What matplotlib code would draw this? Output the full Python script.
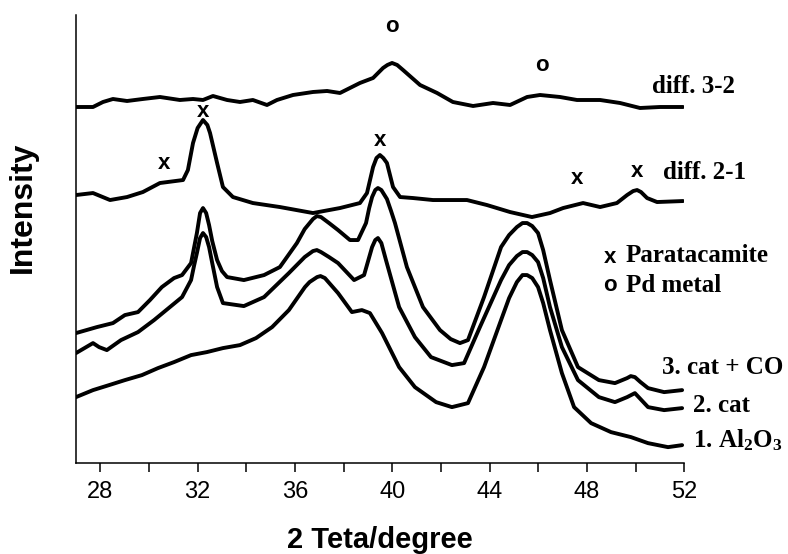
import numpy as np
import matplotlib
matplotlib.use("Agg")
import matplotlib.pyplot as plt
from matplotlib.ticker import MultipleLocator

plt.rcParams['mathtext.fontset'] = 'custom'
plt.rcParams['mathtext.bf'] = 'Liberation Serif:bold'
plt.rcParams['mathtext.rm'] = 'Liberation Serif:bold'
plt.rcParams['mathtext.default'] = 'bf'

# 2 theta / intensity (arbitrary, offset)
tt_co = [27.00, 27.86, 28.52, 29.01, 29.55, 30.04, 30.53, 31.03, 31.36, 31.73, 31.85, 31.97,
         32.10, 32.22, 32.35, 32.47, 32.60, 32.80, 33.00, 33.21, 33.90, 34.73, 35.38, 36.08,
         36.40, 36.74, 36.90, 37.07, 37.40, 37.77, 38.26, 38.59, 38.92, 39.05, 39.17, 39.30,
         39.41, 39.55, 39.78, 39.95, 40.11, 40.60, 41.26, 41.96, 42.40, 42.78, 43.11, 43.77,
         44.47, 44.80, 45.12, 45.35, 45.54, 45.75, 45.99, 46.20, 46.48, 46.97, 47.63, 48.49,
         49.15, 49.65, 49.80, 49.97, 50.20, 50.51, 51.17, 51.91]
i_co = [130, 136, 140, 148, 151, 163, 176, 185, 188, 200, 215, 230,
        250, 255, 250, 238, 222, 203, 192, 186, 183, 188, 196, 220,
        234, 244, 247, 246, 240, 233, 223, 223, 240, 255, 266, 273,
        275, 273, 264, 252, 240, 196, 156, 133, 124, 120, 123, 166,
        216, 228, 236, 240, 240, 237, 230, 213, 183, 133, 96, 83,
        80, 85, 87, 86, 81, 75, 71, 73]

tt_cat = [27.00, 27.70, 27.95, 28.27, 28.85, 29.55, 30.21, 30.86, 31.36, 31.73, 31.85, 31.97,
          32.10, 32.22, 32.35, 32.47, 32.60, 32.80, 33.04, 33.90, 34.73, 35.75, 36.40, 36.74,
          36.90, 37.07, 37.40, 37.77, 38.43, 38.84, 39.17, 39.30, 39.41, 39.55, 39.74, 40.28,
          40.93, 41.59, 42.45, 42.95, 43.60, 44.47, 44.80, 45.12, 45.35, 45.54, 45.75, 45.99,
          46.20, 46.48, 46.97, 47.63, 48.49, 49.15, 49.65, 49.97, 50.51, 51.17, 51.91]
i_cat = [110, 120, 116, 113, 123, 131, 143, 156, 166, 183, 197, 210,
         225, 230, 226, 216, 200, 176, 160, 157, 166, 190, 206, 212,
         213, 211, 206, 200, 183, 188, 216, 223, 225, 220, 203, 156,
         126, 106, 98, 100, 136, 183, 198, 207, 211, 211, 208, 201,
         185, 156, 116, 83, 66, 61, 66, 70, 56, 53, 55]

tt_al = [27.00, 27.70, 28.36, 29.01, 29.71, 30.37, 31.03, 31.73, 32.38, 33.04, 33.74, 34.40,
         35.06, 35.75, 36.41, 36.60, 36.91, 37.05, 37.23, 37.77, 38.34, 38.75, 39.08, 39.58,
         40.28, 40.93, 41.80, 42.45, 43.11, 43.77, 44.47, 44.80, 45.12, 45.35, 45.54, 45.75,
         45.99, 46.20, 46.48, 46.97, 47.47, 48.17, 48.99, 49.81, 50.51, 51.33, 51.91]
i_al = [66, 73, 78, 83, 88, 95, 101, 108, 111, 115, 118, 125,
        136, 153, 176, 181, 186, 187, 185, 170, 151, 153, 150, 130,
        96, 76, 61, 56, 60, 96, 143, 165, 181, 188, 188, 185,
        176, 160, 133, 90, 56, 40, 31, 26, 20, 16, 18]

tt_d21 = [27.00, 27.70, 28.40, 29.10, 29.75, 30.45, 31.40, 31.60, 31.81, 32.00, 32.22, 32.40,
          32.51, 32.80, 33.04, 33.45, 34.27, 35.38, 36.74, 37.85, 38.67, 38.96, 39.21, 39.35,
          39.49, 39.63, 39.78, 40.03, 40.32, 40.85, 41.67, 43.07, 43.89, 44.84, 45.74, 46.48,
          47.02, 47.84, 48.54, 49.23, 49.65, 49.90, 50.06, 50.22, 50.47, 50.88, 51.95]
i_d21 = [268, 270, 263, 266, 271, 280, 283, 293, 320, 335, 343, 338,
         330, 300, 276, 266, 260, 256, 250, 255, 260, 270, 296, 305,
         308, 305, 300, 276, 266, 265, 263, 263, 258, 251, 246, 250,
         255, 260, 256, 260, 268, 272, 273, 271, 265, 261, 262]

tt_d32 = [27.00, 27.70, 28.11, 28.52, 29.10, 29.75, 30.45, 31.27, 31.81, 32.22, 32.63, 33.21,
          33.74, 34.27, 34.85, 35.26, 35.92, 36.74, 37.32, 37.85, 38.26, 38.67, 39.21, 39.62,
          39.80, 39.99, 40.20, 40.44, 41.14, 41.84, 42.49, 43.32, 44.14, 44.84, 45.54, 46.07,
          46.89, 47.59, 48.54, 49.36, 50.18, 51.00, 51.95]
i_d32 = [356, 356, 361, 364, 362, 364, 366, 363, 364, 363, 367, 363,
         361, 363, 358, 363, 368, 371, 372, 370, 375, 380, 385, 395,
         398, 400, 398, 393, 378, 370, 361, 357, 360, 358, 366, 368,
         366, 363, 363, 360, 355, 356, 356]

# phase marks
para_tt = [30.62, 32.22, 39.49, 47.59, 50.06]
para_i = [300, 351, 323, 285, 292]
pd_tt = [39.99, 46.15]
pd_i = [436, 397]

fig = plt.figure(figsize=(7.88, 5.54), dpi=100)
ax = fig.add_axes([0.0964, 0.164, 0.772, 0.809])

lw = 2.8
for tt, ii in [(tt_co, i_co), (tt_cat, i_cat), (tt_al, i_al), (tt_d21, i_d21), (tt_d32, i_d32)]:
    ax.plot(tt, ii, color='black', lw=lw, solid_joinstyle='round', solid_capstyle='round')

mark_font = dict(family='Liberation Sans', weight='bold', fontsize=16, ha='center', va='center')
for t, v in zip(para_tt, para_i):
    ax.text(t, v, 'x', **mark_font)
for t, v in zip(pd_tt, pd_i):
    ax.text(t, v, 'o', **mark_font)

lab_font = dict(family='Liberation Serif', weight='bold', fontsize=18, ha='left', va='center',
                clip_on=False)
ax.text(50.67, 376, 'diff. 3-2', **lab_font)
ax.text(51.13, 291, 'diff. 2-1', **lab_font)
ax.text(48.95, 206, 'x', **mark_font)
ax.text(49.60, 208, 'Paratacamite', **lab_font)
ax.text(48.95, 178, 'o', **mark_font)
ax.text(49.60, 178, 'Pd metal', **lab_font)
ax.text(51.08, 96, '3. cat + CO', **lab_font)
ax.text(52.36, 58, '2. cat', **lab_font)
ax.text(52.36, 23, r'1. Al$_2$O$_3$', **lab_font)

ax.set_xlim(27, 52)
ax.set_ylim(0, 448)
ax.xaxis.set_minor_locator(MultipleLocator(2))
ax.set_xticks([28, 32, 36, 40, 44, 48, 52])
ax.tick_params(axis='x', which='both', direction='out', length=6.5, width=1.1, pad=6)
ax.tick_params(axis='x', labelsize=17)
for lbl in ax.get_xticklabels():
    lbl.set_family('Liberation Sans')
ax.set_yticks([])
for s in ['top', 'right']:
    ax.spines[s].set_visible(False)
for s in ['left', 'bottom']:
    ax.spines[s].set_linewidth(1.1)

fig.text(0.029, 0.626, 'Intensity', rotation=90, ha='center', va='center',
         family='Liberation Sans', weight='bold', fontsize=23)
fig.text(0.482, 0.025, '2 Teta/degree', ha='center', va='center',
         family='Liberation Sans', weight='bold', fontsize=21)

fig.savefig('out.png', dpi=100)
